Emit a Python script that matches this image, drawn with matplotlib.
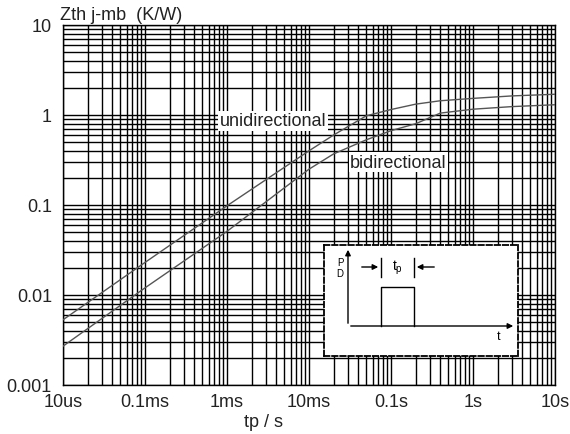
import numpy as np
import matplotlib.pyplot as plt
from matplotlib.ticker import NullFormatter

plt.rcParams['font.family'] = ['Liberation Sans', 'DejaVu Sans']

# データ
tp = [1e-5, 1e-4, 1e-3, 1e-2, 2e-2, 5e-2, 0.1, 0.2, 0.4, 1, 3, 10]
zth_uni = [0.0053, 0.023, 0.098, 0.40, 0.60, 0.98, 1.15, 1.32, 1.44, 1.53, 1.63, 1.70]
zth_bi = [0.0027, 0.012, 0.051, 0.25, 0.37, 0.53, 0.67, 0.80, 1.05, 1.16, 1.24, 1.30]

x_ticks = [1e-5, 1e-4, 1e-3, 1e-2, 1e-1, 1, 10]
x_labels = ["10us", "0.1ms", "1ms", "10ms", "0.1s", "1s", "10s"]
y_ticks = [0.001, 0.01, 0.1, 1, 10]
y_labels = ["0.001", "0.01", "0.1", "1", "10"]

W, H = 570, 435
fig = plt.figure(figsize=(W / 100, H / 100), dpi=100, facecolor="white")
ax = fig.add_axes([63 / W, 1 - 386 / H, (555 - 63) / W, (386 - 26) / H])

ax.set_xscale("log")
ax.set_yscale("log")
ax.set_xlim(1e-5, 10)
ax.set_ylim(1e-3, 10)

# グリッド
ax.grid(which="both", color="black", linewidth=1.0, zorder=0)
ax.set_axisbelow(True)
ax.xaxis.set_minor_formatter(NullFormatter())
ax.yaxis.set_minor_formatter(NullFormatter())
ax.set_xticks(x_ticks, x_labels)
ax.set_yticks(y_ticks, y_labels)
ax.tick_params(which="both", length=0)
ax.tick_params(axis="x", pad=6, labelsize=13, labelcolor="#222222")
ax.tick_params(axis="y", pad=8, labelsize=13, labelcolor="#222222")
for s in ax.spines.values():
    s.set_color("black")
    s.set_linewidth(1.0)

# 曲線
ax.plot(tp, zth_uni, color="#555555", linewidth=1.0, zorder=3)
ax.plot(tp, zth_bi, color="#555555", linewidth=1.0, zorder=3)

box = dict(facecolor="white", edgecolor="none", pad=1.0)
ax.text(8.2e-4, 0.86, "unidirectional", fontsize=13, color="#222222",
        va="center", ha="left", bbox=box, zorder=4)
ax.text(0.0316, 0.30, "bidirectional", fontsize=13, color="#222222",
        va="center", ha="left", bbox=box, zorder=4)

fig.text(60 / W, 1 - 16 / H, "Zth j-mb  (K/W)", fontsize=13, color="#222222",
         va="center", ha="left")
fig.text(263 / W, 1 - 423 / H, "tp / s", fontsize=13, color="#222222",
         va="center", ha="center")

# パルス波形の挿入図
ins = fig.add_axes([324 / W, 1 - 357 / H, 194 / W, 111 / H], zorder=5)
ins.set_facecolor("white")
ins.set_xlim(0, 194)
ins.set_ylim(0, 111)
ins.set_xticks([])
ins.set_yticks([])
for s in ins.spines.values():
    s.set_linestyle((0, (3, 1.5)))
    s.set_linewidth(1.3)
    s.set_color("black")

arrow = dict(arrowstyle="-|>", color="black", lw=1.0, mutation_scale=8)
ins.annotate("", xy=(24, 109), xytext=(24, 30), arrowprops=arrow)
ins.annotate("", xy=(192, 30), xytext=(24, 30), arrowprops=arrow)
ins.plot([57, 57, 90, 90], [30, 69, 69, 30], color="black", lw=1.0)
ins.plot([57, 57], [79, 98], color="black", lw=1.0)
ins.plot([90, 90], [79, 98], color="black", lw=1.0)
ins.annotate("", xy=(57, 89), xytext=(35, 89), arrowprops=arrow)
ins.annotate("", xy=(90, 89), xytext=(113, 89), arrowprops=arrow)
ins.text(73, 89, "$\\mathregular{t_p}$", fontsize=10, ha="center", va="center")
ins.text(16, 94, "P", fontsize=7, ha="center", va="center")
ins.text(16, 83, "D", fontsize=7, ha="center", va="center")
ins.text(175, 20, "t", fontsize=9, ha="center", va="center")

fig.savefig("out.png", dpi=100)
